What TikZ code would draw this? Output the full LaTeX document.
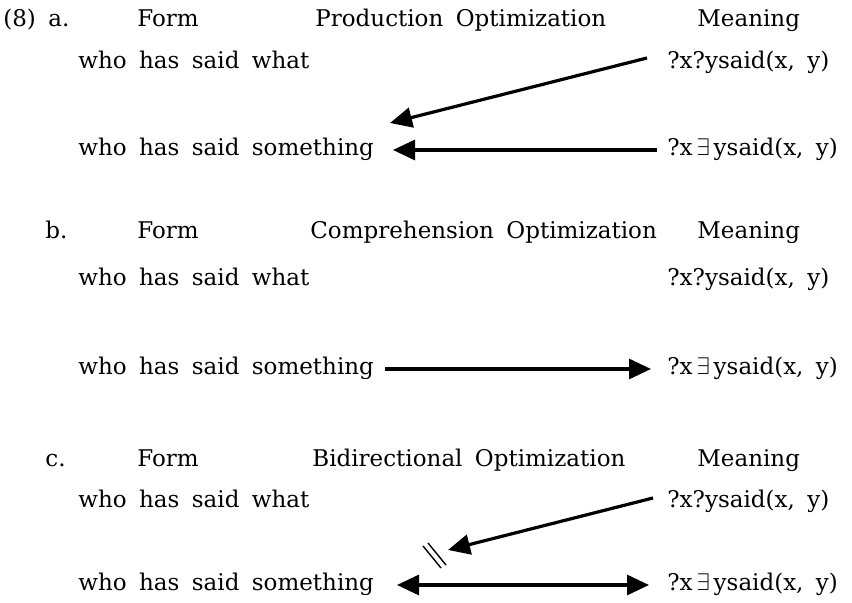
\documentclass[tikz,border=0pt]{standalone}
\usepackage{fontspec}
\setmainfont{DejaVu Serif}[WordSpace=1.7]
\usetikzlibrary{arrows.meta,positioning}
\tikzset{
  lbl/.style={anchor=west, inner sep=0pt, text height=9pt, text depth=3pt,
    font=\fontsize{11.5}{14}\selectfont},
  arr/.style={line width=1.6pt, -{Triangle[length=11pt,width=10pt]}},
  barr/.style={line width=1.6pt, {Triangle[length=11pt,width=10pt]}-{Triangle[length=11pt,width=10pt]}}
}

\begin{document}
\begin{tikzpicture}[x=0.5pt, y=-0.5pt]
\useasboundingbox (0,0) rectangle (852,603);

% (8a) production
\node[lbl] (numA) at (3,21) {(8) a.};
\node[lbl] (formA) at (137,21) {Form};
\node[lbl] (optA) at (315,21) {Production Optimization};
\node[lbl] (meanA) at (697,21) {Meaning};
\node[lbl] (whatA) at (78,63) {who has said what};
\node[lbl] (someA) at (78,150) {who has said something};
\node[lbl] (qqA) at (667,63) {?x?ysaid(x, y)};
\node[lbl] (qeA) at (667,150) {?x\,$\exists$\,ysaid(x, y)};
\coordinate (tipA) at (390,123);
\coordinate (endA) at (393,150);
\draw[arr] ([xshift=-10pt,yshift=2.5pt]qqA.west) -- (tipA);
\draw[arr] ([xshift=-5pt]qeA.west) -- (endA);

% (8b) comprehension
\node[lbl] (numB) at (45,233) {b.};
\node[lbl] (formB) at (137,233) {Form};
\node[lbl] (optB) at (310,233) {Comprehension Optimization};
\node[lbl] (meanB) at (697,233) {Meaning};
\node[lbl] (whatB) at (78,280) {who has said what};
\node[lbl] (someB) at (78,369) {who has said something};
\node[lbl] (qqB) at (667,280) {?x?ysaid(x, y)};
\node[lbl] (qeB) at (667,369) {?x\,$\exists$\,ysaid(x, y)};
\coordinate (startB) at (385,369);
\draw[arr] (startB) -- ([xshift=-8pt]qeB.west);

% (8c) bidirectional
\node[lbl] (numC) at (45,461) {c.};
\node[lbl] (formC) at (137,461) {Form};
\node[lbl] (optC) at (312,461) {Bidirectional Optimization};
\node[lbl] (meanC) at (697,461) {Meaning};
\node[lbl] (whatC) at (78,502) {who has said what};
\node[lbl] (someC) at (78,585) {who has said something};
\node[lbl] (qqC) at (667,502) {?x?ysaid(x, y)};
\node[lbl] (qeC) at (667,585) {?x\,$\exists$\,ysaid(x, y)};
\coordinate (tipC) at (448,550);
\coordinate (endC) at (397,585);
\draw[arr] ([xshift=-7pt,yshift=2pt]qqC.west) -- (tipC);
\draw[barr] (endC) -- ([xshift=-9pt]qeC.west);
% blocked mark
\draw[line width=0.7pt] (423,546) -- (441,568);
\draw[line width=0.7pt] (428,543) -- (446,565);
\end{tikzpicture}
\end{document}
